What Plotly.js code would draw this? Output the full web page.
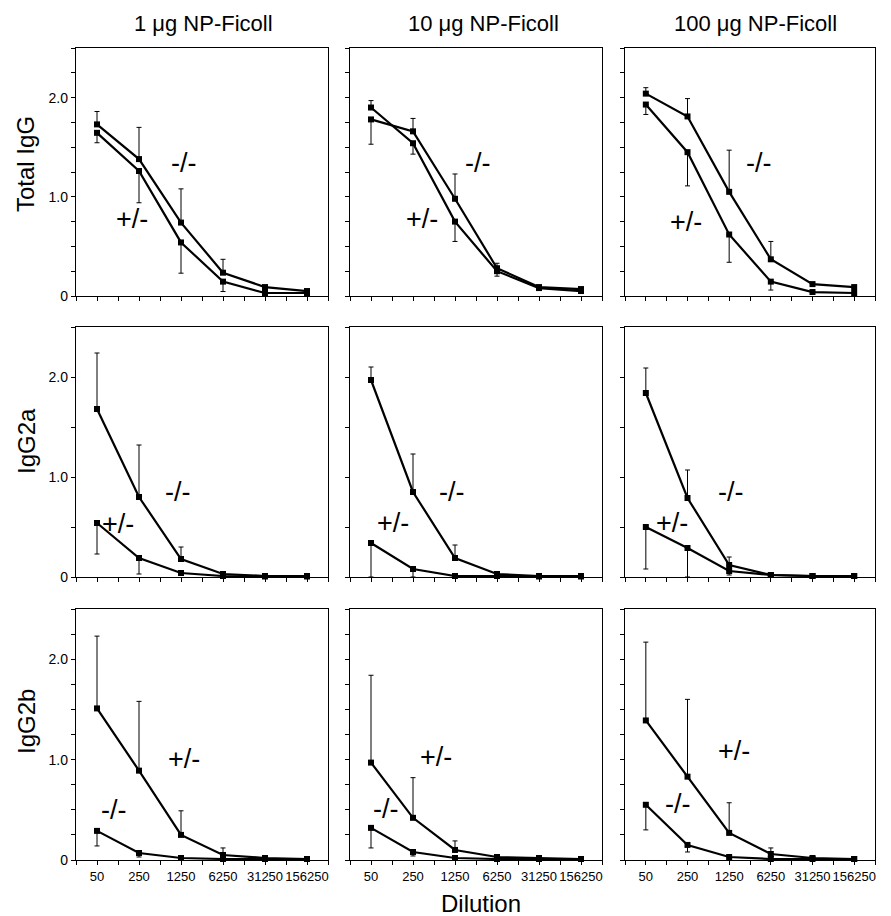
<!DOCTYPE html>
<html><head><meta charset="utf-8">
<script src="https://cdn.plot.ly/plotly-3.0.1.min.js"></script>
<style>html,body{margin:0;padding:0;background:#fff}#chart{width:891px;height:916px}</style>
</head><body><div id="chart"></div>
<script>
// ---------- data ----------
const dilutions = [50, 250, 1250, 6250, 31250, 156250];
const dilutionLabels = ['50', '250', '1250', '6250', '31250', '156250'];
const doses = ['1 μg NP-Ficoll', '10 μg NP-Ficoll', '100 μg NP-Ficoll'];
const isotypes = ['Total IgG', 'IgG2a', 'IgG2b'];
const genotypeKO = '-/-';
const genotypeHet = '+/-';
const yTickVals = [0, 1, 2];
const yTickText = ['0', '1.0', '2.0'];

// error arrays are signed: + = bar drawn upward, - = bar drawn downward
// Total IgG
const tot1_ko = [1.73, 1.38, 0.74, 0.235, 0.09, 0.05];
const tot1_ko_err = [0.13, 0.32, 0.34, 0.135, 0, 0];
const tot1_het = [1.645, 1.26, 0.54, 0.145, 0.03, 0.03];
const tot1_het_err = [-0.10, -0.32, -0.31, -0.10, 0, 0];
const tot10_ko = [1.78, 1.66, 0.98, 0.28, 0.09, 0.07];
const tot10_ko_err = [-0.25, 0.13, 0.25, 0.05, 0, 0];
const tot10_het = [1.90, 1.54, 0.75, 0.25, 0.08, 0.05];
const tot10_het_err = [0.07, -0.11, -0.20, -0.05, 0, 0];
const tot100_ko = [2.04, 1.81, 1.05, 0.37, 0.12, 0.09];
const tot100_ko_err = [0.06, 0.18, 0.42, 0.18, 0, 0];
const tot100_het = [1.93, 1.45, 0.62, 0.145, 0.04, 0.03];
const tot100_het_err = [-0.10, -0.34, -0.28, -0.085, 0, 0];
// IgG2a
const g2a1_ko = [1.68, 0.80, 0.18, 0.03, 0.01, 0.01];
const g2a1_ko_err = [0.56, 0.52, 0.12, 0, 0, 0];
const g2a1_het = [0.54, 0.19, 0.04, 0.01, 0.005, 0.005];
const g2a1_het_err = [-0.31, -0.16, -0.02, 0, 0, 0];
const g2a10_ko = [1.97, 0.85, 0.19, 0.03, 0.01, 0.01];
const g2a10_ko_err = [0.13, 0.38, 0.13, 0, 0, 0];
const g2a10_het = [0.34, 0.08, 0.01, 0.01, 0.005, 0.005];
const g2a10_het_err = [-0.34, -0.08, 0, 0, 0, 0];
const g2a100_ko = [1.84, 0.79, 0.12, 0.02, 0.01, 0.01];
const g2a100_ko_err = [0.25, 0.28, 0.08, 0, 0, 0];
const g2a100_het = [0.50, 0.29, 0.06, 0.02, 0.01, 0.01];
const g2a100_het_err = [-0.42, -0.29, -0.04, 0, 0, 0];
// IgG2b
const g2b1_ko = [0.29, 0.07, 0.02, 0.01, 0.01, 0.01];
const g2b1_ko_err = [-0.15, -0.04, 0, 0, 0, 0];
const g2b1_het = [1.51, 0.89, 0.25, 0.05, 0.02, 0.01];
const g2b1_het_err = [0.72, 0.69, 0.24, 0.07, 0, 0];
const g2b10_ko = [0.32, 0.08, 0.02, 0.01, 0.01, 0.01];
const g2b10_ko_err = [-0.20, -0.04, 0, 0, 0, 0];
const g2b10_het = [0.97, 0.42, 0.10, 0.03, 0.02, 0.01];
const g2b10_het_err = [0.87, 0.40, 0.09, 0.02, 0, 0];
const g2b100_ko = [0.55, 0.15, 0.03, 0.01, 0.01, 0.01];
const g2b100_ko_err = [-0.25, -0.07, 0, 0, 0, 0];
const g2b100_het = [1.39, 0.83, 0.27, 0.06, 0.02, 0.01];
const g2b100_het_err = [0.78, 0.77, 0.30, 0.06, 0, 0];

// panels, row-major (row = isotype, col = dose)
const panels = [
  [tot1_ko, tot1_ko_err, tot1_het, tot1_het_err],
  [tot10_ko, tot10_ko_err, tot10_het, tot10_het_err],
  [tot100_ko, tot100_ko_err, tot100_het, tot100_het_err],
  [g2a1_ko, g2a1_ko_err, g2a1_het, g2a1_het_err],
  [g2a10_ko, g2a10_ko_err, g2a10_het, g2a10_het_err],
  [g2a100_ko, g2a100_ko_err, g2a100_het, g2a100_het_err],
  [g2b1_ko, g2b1_ko_err, g2b1_het, g2b1_het_err],
  [g2b10_ko, g2b10_ko_err, g2b10_het, g2b10_het_err],
  [g2b100_ko, g2b100_ko_err, g2b100_het, g2b100_het_err]
];

// ---------- layout geometry (pixels) ----------
const W = 891, H = 916;
const colPx = [[76, 328], [350, 602], [625, 875]];
const rowPx = [[48, 296], [327, 577], [609, 860]];
const rowMinorDy = [0.25, 0.5, 0.25];
// label positions [x,y] in pixels: [KO label, Het label] per panel
const labelPx = [
  [[183, 163], [132, 219]], [[477, 163], [422, 219]], [[758, 163], [686, 222]],
  [[177, 492], [118, 524]], [[451, 492], [393, 523]], [[730, 492], [672, 523]],
  [[113, 810], [184, 759]], [[385, 809], [436, 757]], [[677, 804], [734, 751]]
];
const FONT = 'Liberation Sans, Arial, Helvetica, sans-serif';
const px = v => v / W, py = v => 1 - v / H;

const step = Math.log10(dilutions[1] / dilutions[0]);
const xRange = [Math.log10(dilutions[0]) - step / 2, Math.log10(dilutions[dilutions.length - 1]) + step / 2];
const minorX = [dilutions[0] / Math.sqrt(5)].concat(dilutions.map(d => d * Math.sqrt(5)));

const traces = [];
const layout = {
  width: W, height: H,
  margin: {l: 0, r: 0, t: 0, b: 0},
  paper_bgcolor: '#fff', plot_bgcolor: '#fff',
  showlegend: false,
  font: {family: FONT, color: '#000'},
  annotations: []
};

function errParts(err) {
  return {
    type: 'data', symmetric: false,
    array: err.map(e => e > 0 ? e : 0),
    arrayminus: err.map(e => e < 0 ? -e : 0),
    color: '#000', thickness: 1, width: 2.5
  };
}

for (let r = 0; r < 3; r++) {
  for (let c = 0; c < 3; c++) {
    const i = r * 3 + c;
    const n = i + 1;
    const xk = n === 1 ? 'x' : 'x' + n;
    const yk = n === 1 ? 'y' : 'y' + n;
    layout['xaxis' + (n === 1 ? '' : n)] = {
      domain: [px(colPx[c][0]), px(colPx[c][1])],
      anchor: yk, type: 'log', range: xRange,
      tickmode: 'array', tickvals: dilutions, ticktext: dilutionLabels,
      showticklabels: r === 2, tickangle: 0,
      ticks: 'outside', ticklen: 4, tickwidth: 1, tickcolor: '#000',
      minor: {tickmode: 'array', tickvals: minorX, ticks: 'outside', ticklen: 4, tickwidth: 1, tickcolor: '#000', showgrid: false},
      showline: true, mirror: true, linecolor: '#000', linewidth: 1.2,
      showgrid: false, zeroline: false, fixedrange: true,
      tickfont: {family: FONT, size: 13, color: '#000'}
    };
    layout['yaxis' + (n === 1 ? '' : n)] = {
      domain: [py(rowPx[r][1]), py(rowPx[r][0])],
      anchor: xk, range: [0, 2.5],
      tickmode: 'array', tickvals: yTickVals, ticktext: yTickText,
      showticklabels: c === 0,
      ticks: 'outside', ticklen: 4, tickwidth: 1, tickcolor: '#000',
      minor: {tickmode: 'linear', tick0: 0, dtick: rowMinorDy[r], ticks: 'outside', ticklen: 4, tickwidth: 1, tickcolor: '#000', showgrid: false},
      showline: true, mirror: true, linecolor: '#000', linewidth: 1.2,
      showgrid: false, zeroline: false, fixedrange: true,
      tickfont: {family: FONT, size: 14, color: '#000'}
    };
    const [ko, koErr, het, hetErr] = panels[i];
    [[ko, koErr, genotypeKO], [het, hetErr, genotypeHet]].forEach(([vals, err, name]) => {
      traces.push({
        type: 'scatter', mode: 'lines+markers', name: name,
        x: dilutions, y: vals, xaxis: xk, yaxis: yk,
        line: {color: '#000', width: 2.2},
        marker: {symbol: 'square', size: 6, color: '#000'},
        error_y: errParts(err),
        cliponaxis: false, hoverinfo: 'skip'
      });
    });
    [genotypeKO, genotypeHet].forEach((g, k) => {
      layout.annotations.push({
        text: g, xref: 'paper', yref: 'paper',
        x: px(labelPx[i][k][0]), y: py(labelPx[i][k][1]),
        xanchor: 'center', yanchor: 'middle', showarrow: false,
        font: {family: FONT, size: 27, color: '#000'}
      });
    });
  }
}

// column titles
const colTitleX = [203, 483, 755];
doses.forEach((d, c) => layout.annotations.push({
  text: d, xref: 'paper', yref: 'paper', x: px(colTitleX[c]), y: py(24),
  xanchor: 'center', yanchor: 'middle', showarrow: false,
  font: {family: FONT, size: 22, color: '#000'}
}));
// row titles
const rowTitleY = [164, 441, 722];
isotypes.forEach((t, r) => layout.annotations.push({
  text: t, xref: 'paper', yref: 'paper', x: px(26), y: py(rowTitleY[r]),
  xanchor: 'center', yanchor: 'middle', textangle: -90, showarrow: false,
  font: {family: FONT, size: 24, color: '#000'}
}));
// x title
layout.annotations.push({
  text: 'Dilution', xref: 'paper', yref: 'paper', x: px(481), y: py(903),
  xanchor: 'center', yanchor: 'middle', showarrow: false,
  font: {family: FONT, size: 24, color: '#000'}
});

Plotly.newPlot('chart', traces, layout, {staticPlot: true, displayModeBar: false});
</script>
</body></html>
